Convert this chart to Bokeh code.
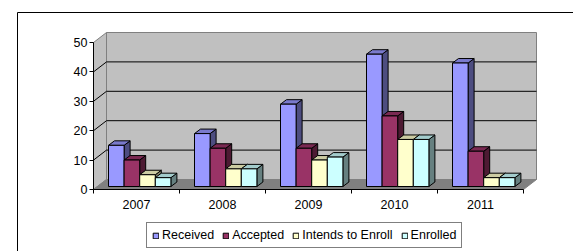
from bokeh.plotting import figure
from bokeh.models import Range1d, LinearAxis, FixedTicker, Legend, LegendItem
from bokeh.embed import file_html
from bokeh.resources import INLINE

# ---- data ----
years = ["2007", "2008", "2009", "2010", "2011"]
received = [14, 18, 28, 45, 42]
accepted = [9, 13, 13, 24, 12]
intends = [4, 6, 9, 16, 3]
enrolled = [3, 6, 10, 16, 3]
series_names = ["Received", "Accepted", "Intends to Enroll", "Enrolled"]
y_ticks = [0, 10, 20, 30, 40, 50]

# ---- styles ----
front_colors = ["#9999FF", "#993366", "#FFFFCC", "#CCFFFF"]
top_colors = ["#7A7ACC", "#7A2952", "#CCCCA3", "#A3CCCC"]
side_colors = ["#4D4D80", "#4D1A33", "#808066", "#668080"]
FONT = "Liberation Sans"
FSIZE = "12.5px"

W, H = 573, 251
PX = 86.0    # pixels per category
PY = 2.94    # pixels per value unit
X0, Y0 = 93, 189   # figure pixel of the data origin


def dx(px):
    return px / PX


def dy(px):
    return px / PY


p = figure(width=W, height=H, output_backend="svg", toolbar_location=None,
           x_range=Range1d(-X0 / PX, (W - X0) / PX),
           y_range=Range1d(-(H - Y0) / PY, Y0 / PY),
           x_axis_type=None, y_axis_type=None, min_border=0)
p.outline_line_color = None
p.background_fill_color = "white"
p.border_fill_color = "white"

ncat = len(years)
ymax = y_ticks[-1]
WD_X, WD_Y = dx(13), dy(10)

# outer chart border
p.quad(left=[dx(17 - X0)], right=[dx(W + 20 - X0)], top=[dy(Y0 - 12)], bottom=[-dy(H + 20 - Y0)],
       fill_color=None, line_color="black", line_width=1)

# left side wall
p.patch([0, WD_X, WD_X, 0], [0, WD_Y, ymax + WD_Y, ymax],
        fill_color="#C0C0C0", line_color="#808080", line_width=1)
# back wall
p.quad(left=[WD_X], right=[ncat + WD_X], bottom=[WD_Y], top=[ymax + WD_Y],
       fill_color="#C0C0C0", line_color="#808080", line_width=1)
# gridlines (back wall + side wall)
inner = [t for t in y_ticks if 0 < t < ymax]
p.segment(x0=[WD_X] * len(inner), x1=[ncat + WD_X] * len(inner),
          y0=[t + WD_Y for t in inner], y1=[t + WD_Y for t in inner],
          line_color="black", line_width=1)
p.segment(x0=[0] * len(inner), x1=[WD_X] * len(inner),
          y0=inner, y1=[t + WD_Y for t in inner],
          line_color="black", line_width=1)
# floor
p.patch([0, ncat, ncat + WD_X, WD_X], [0, 0, WD_Y, WD_Y],
        fill_color="#808080", line_color="#808080", line_width=1)

# bars
BAR_OFF, BAR_W, BAR_DX, BAR_DY, BAR_BASE = 15.0, 15.6, 6.0, 4.5, 3.0
legend_items = []
for k, vals in enumerate([received, accepted, intends, enrolled]):
    fl, fr, fb, ft = [], [], [], []
    txs, tys, sxs, sys_ = [], [], [], []
    for i, v in enumerate(vals):
        L = i + dx(BAR_OFF + BAR_W * k)
        R = L + dx(BAR_W)
        B = dy(BAR_BASE)
        T = B + v
        fl.append(L); fr.append(R); fb.append(B); ft.append(T)
        ox, oy = dx(BAR_DX), dy(BAR_DY)
        txs.append([L, R, R + ox, L + ox]); tys.append([T, T, T + oy, T + oy])
        sxs.append([R, R + ox, R + ox, R]); sys_.append([B, B + oy, T + oy, T])
    p.patches(sxs, sys_, fill_color=side_colors[k], line_color="black", line_width=1)
    p.patches(txs, tys, fill_color=top_colors[k], line_color="black", line_width=1)
    r = p.quad(left=fl, right=fr, bottom=fb, top=ft,
               fill_color=front_colors[k], line_color="black", line_width=1)
    legend_items.append(LegendItem(label=series_names[k], renderers=[r]))

# axes
yax = LinearAxis(fixed_location=0, bounds=(0, ymax),
                 ticker=FixedTicker(ticks=y_ticks, minor_ticks=[]))
yax.major_tick_out = 4
yax.major_tick_in = 0
yax.major_label_standoff = 2
yax.axis_line_color = "black"
yax.major_tick_line_color = "black"
yax.major_label_text_font = FONT
yax.major_label_text_font_size = FSIZE
yax.major_label_text_color = "black"
p.add_layout(yax, "left")

centers = [i + 0.5 for i in range(ncat)]
xax = LinearAxis(fixed_location=0, bounds=(0, ncat),
                 ticker=FixedTicker(ticks=centers, minor_ticks=list(range(ncat + 1))))
xax.major_label_overrides = {c: y for c, y in zip(centers, years)}
xax.major_tick_out = 0
xax.major_tick_in = 0
xax.minor_tick_out = 4
xax.minor_tick_in = 0
xax.minor_tick_line_color = "black"
xax.major_label_standoff = 6
xax.axis_line_color = "black"
xax.major_label_text_font = FONT
xax.major_label_text_font_size = FSIZE
xax.major_label_text_color = "black"
p.add_layout(xax, "below")

legend = Legend(items=legend_items, orientation="horizontal", location=(146, 3),
                glyph_width=7, glyph_height=7, label_standoff=3, spacing=8,
                padding=5, margin=0, label_height=12,
                label_text_font=FONT, label_text_font_size=FSIZE, label_text_color="black",
                border_line_color="black", border_line_width=1,
                background_fill_color="white", background_fill_alpha=1)
p.add_layout(legend)

open("out.html", "w").write(file_html(p, INLINE))
